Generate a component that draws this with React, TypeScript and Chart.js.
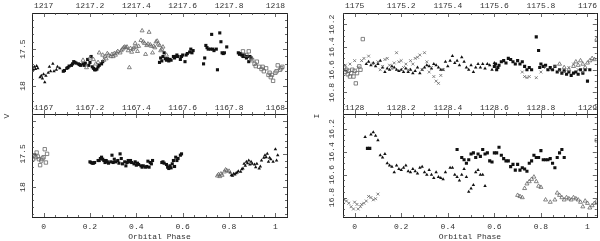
import React, { useEffect, useRef } from 'react';
import { Chart, registerables } from 'chart.js';
Chart.register(...registerables);

type Pt = [number, number];

// ---------- Tick labels / axis bases ----------
const phaseTicksLabel = 'Orbital Phase';
const hjdBaseTL = 1217;
const hjdBaseBL = 1167;
const hjdBaseTR = 1175;
const hjdBaseBR = 1128;
const yTitleLeft = 'V';
const yTitleRight = 'I';

// ---------- Top-left panel (V, HJD 1217) ----------
const tlFilledTri: Pt[] = [
  [-0.045, 17.78], [-0.04, 17.74], [-0.035, 17.77], [-0.03, 17.73], [-0.025, 17.76], [-0.015, 17.88],
  [-0.01, 17.86], [-0.005, 17.9], [0.0, 17.84], [0.005, 17.95], [0.01, 17.86], [0.02, 17.82],
  [0.025, 17.74], [0.03, 17.8], [0.04, 17.7], [0.045, 17.8], [0.055, 17.78], [0.06, 17.74], [0.07, 17.76],
];
const tlFilledSq: Pt[] = [
  [0.085, 17.8], [0.09, 17.79], [0.1, 17.76], [0.105, 17.75], [0.11, 17.73], [0.12, 17.72], [0.125, 17.7],
  [0.13, 17.67], [0.135, 17.68], [0.14, 17.69], [0.15, 17.7], [0.155, 17.71], [0.16, 17.72], [0.17, 17.7],
  [0.175, 17.72], [0.18, 17.69], [0.19, 17.64], [0.195, 17.72], [0.2, 17.68], [0.205, 17.6], [0.21, 17.74],
  [0.215, 17.76], [0.22, 17.78], [0.225, 17.78], [0.23, 17.77], [0.235, 17.74], [0.24, 17.72], [0.25, 17.7],
  [0.255, 17.67],
  [0.5, 17.68], [0.505, 17.62], [0.51, 17.66], [0.515, 17.6], [0.52, 17.55], [0.525, 17.63], [0.53, 17.65],
  [0.535, 17.63], [0.54, 17.66], [0.545, 17.64], [0.55, 17.65], [0.56, 17.6], [0.565, 17.62], [0.57, 17.6],
  [0.575, 17.58], [0.58, 17.6], [0.59, 17.64], [0.595, 17.6], [0.6, 17.58], [0.61, 17.67], [0.615, 17.58],
  [0.62, 17.56], [0.63, 17.54], [0.635, 17.5], [0.64, 17.55], [0.645, 17.52],
  [0.69, 17.7], [0.695, 17.62], [0.7, 17.45], [0.705, 17.48], [0.71, 17.5], [0.72, 17.5], [0.725, 17.3],
  [0.73, 17.5], [0.735, 17.52], [0.745, 17.5], [0.75, 17.78], [0.76, 17.28], [0.765, 17.4], [0.77, 17.55],
  [0.775, 17.56], [0.78, 17.55], [0.79, 17.47],
  [0.84, 17.55], [0.845, 17.57], [0.85, 17.56], [0.855, 17.58], [0.86, 17.6], [0.865, 17.58], [0.87, 17.6],
  [0.875, 17.62], [0.88, 17.6], [0.885, 17.67], [0.89, 17.6], [0.895, 17.62],
];
const tlOpenTri: Pt[] = [
  [0.17, 17.65], [0.185, 17.75], [0.2, 17.62], [0.215, 17.64], [0.225, 17.7], [0.235, 17.68], [0.24, 17.55],
  [0.255, 17.58], [0.26, 17.65], [0.265, 17.6], [0.27, 17.63], [0.275, 17.56], [0.28, 17.58], [0.29, 17.6],
  [0.295, 17.57], [0.3, 17.6], [0.305, 17.56], [0.31, 17.58], [0.315, 17.55], [0.32, 17.53], [0.33, 17.55],
  [0.335, 17.52], [0.34, 17.5], [0.345, 17.48], [0.35, 17.47], [0.355, 17.48], [0.36, 17.47], [0.365, 17.52],
  [0.37, 17.75], [0.375, 17.49], [0.38, 17.54], [0.385, 17.5], [0.39, 17.48], [0.395, 17.42], [0.4, 17.47],
  [0.405, 17.53], [0.41, 17.46], [0.42, 17.38], [0.425, 17.25], [0.43, 17.4], [0.435, 17.42], [0.44, 17.57],
  [0.445, 17.45], [0.45, 17.43], [0.455, 17.27], [0.46, 17.44], [0.465, 17.46], [0.47, 17.55], [0.475, 17.46],
  [0.48, 17.48], [0.485, 17.4], [0.49, 17.39], [0.495, 17.43], [0.5, 17.45], [0.505, 17.52], [0.51, 17.5],
  [0.515, 17.47], [0.53, 17.58],
];
const tlOpenSq: Pt[] = [
  [0.86, 17.53], [0.875, 17.58], [0.885, 17.53], [0.895, 17.63], [0.9, 17.65], [0.91, 17.7], [0.915, 17.73],
  [0.92, 17.67], [0.93, 17.74], [0.94, 17.77], [0.945, 17.74], [0.95, 17.8], [0.96, 17.76], [0.97, 17.85],
  [0.975, 17.82], [0.98, 17.88], [0.985, 17.85], [0.99, 17.93], [1.0, 17.82], [1.005, 17.8], [1.01, 17.72],
  [1.02, 17.78], [1.025, 17.76], [1.03, 17.74],
];

// ---------- Bottom-left panel (V, HJD 1167) ----------
const blOpenSq: Pt[] = [
  [-0.045, 17.58], [-0.04, 17.52], [-0.035, 17.55], [-0.03, 17.48], [-0.025, 17.54], [-0.02, 17.58],
  [-0.015, 17.67], [-0.01, 17.6], [-0.005, 17.57], [0.0, 17.55], [0.005, 17.43], [0.01, 17.63], [0.015, 17.5],
];
const blFilledSq: Pt[] = [
  [0.2, 17.62], [0.205, 17.63], [0.21, 17.64], [0.215, 17.64], [0.22, 17.63], [0.235, 17.6], [0.24, 17.6],
  [0.245, 17.57], [0.25, 17.55], [0.255, 17.58], [0.26, 17.6], [0.265, 17.63], [0.27, 17.6], [0.275, 17.62],
  [0.28, 17.64], [0.29, 17.62], [0.295, 17.52], [0.3, 17.63], [0.305, 17.58], [0.31, 17.62], [0.32, 17.6],
  [0.325, 17.64], [0.33, 17.5], [0.335, 17.57], [0.34, 17.65], [0.35, 17.62], [0.355, 17.68], [0.36, 17.63],
  [0.365, 17.6], [0.37, 17.62], [0.375, 17.6], [0.38, 17.63], [0.39, 17.65], [0.395, 17.62], [0.4, 17.67],
  [0.405, 17.64], [0.41, 17.66], [0.42, 17.68], [0.425, 17.7], [0.43, 17.68], [0.44, 17.7], [0.445, 17.69],
  [0.45, 17.61], [0.455, 17.7], [0.46, 17.63], [0.465, 17.65], [0.47, 17.6], [0.51, 17.63], [0.515, 17.62],
  [0.52, 17.64], [0.53, 17.66], [0.535, 17.7], [0.54, 17.72], [0.545, 17.68], [0.55, 17.71], [0.555, 17.65],
  [0.56, 17.6], [0.565, 17.69], [0.57, 17.55], [0.575, 17.6], [0.58, 17.57], [0.59, 17.52], [0.595, 17.5],
];
const blOpenTri: Pt[] = [
  [0.75, 17.83], [0.755, 17.81], [0.76, 17.84], [0.765, 17.8], [0.77, 17.82], [0.78, 17.77], [0.785, 17.74],
  [0.79, 17.75], [0.8, 17.76],
];
const blFilledTri: Pt[] = [
  [0.805, 17.78], [0.81, 17.82], [0.815, 17.83], [0.82, 17.8], [0.825, 17.81], [0.83, 17.79], [0.835, 17.78],
  [0.84, 17.76], [0.85, 17.77], [0.855, 17.73], [0.86, 17.72], [0.865, 17.65], [0.87, 17.68], [0.875, 17.62],
  [0.88, 17.64], [0.885, 17.6], [0.89, 17.66], [0.895, 17.62], [0.9, 17.65], [0.91, 17.66], [0.915, 17.7],
  [0.92, 17.65], [0.93, 17.72], [0.935, 17.69], [0.94, 17.6], [0.95, 17.56], [0.955, 17.52], [0.96, 17.55],
  [0.965, 17.5], [0.97, 17.62], [0.975, 17.56], [0.98, 17.58], [0.99, 17.62], [1.0, 17.43], [1.005, 17.6],
  [1.01, 17.52],
];

// ---------- Top-right panel (I, HJD 1175) ----------
const trOpenSq: Pt[] = [
  [-0.045, 16.58], [-0.04, 16.62], [-0.035, 16.6], [-0.03, 16.64], [-0.025, 16.61], [-0.02, 16.66],
  [-0.015, 16.63], [-0.01, 16.6], [-0.005, 16.66], [0.0, 16.61], [0.005, 16.72], [0.01, 16.63], [0.02, 16.57],
  [0.025, 16.6], [0.035, 16.33],
];
const trCross: Pt[] = [
  [-0.04, 16.56], [-0.02, 16.55], [0.0, 16.52], [0.015, 16.58], [0.03, 16.52], [0.04, 16.5], [0.06, 16.48],
  [0.08, 16.55], [0.1, 16.53], [0.11, 16.6], [0.12, 16.57], [0.13, 16.51], [0.14, 16.5], [0.15, 16.56],
  [0.16, 16.59], [0.17, 16.54], [0.18, 16.45], [0.19, 16.53], [0.2, 16.52], [0.21, 16.58], [0.22, 16.55],
  [0.23, 16.6], [0.24, 16.52], [0.25, 16.55], [0.26, 16.5], [0.27, 16.49], [0.28, 16.47], [0.29, 16.6],
  [0.3, 16.45], [0.31, 16.53], [0.32, 16.62], [0.33, 16.58], [0.34, 16.66], [0.35, 16.7], [0.36, 16.72],
  [0.37, 16.65], [0.38, 16.6], [0.72, 16.62], [0.73, 16.66], [0.74, 16.67], [0.75, 16.66], [0.78, 16.67],
  [0.8, 16.62], [0.82, 16.58], [0.84, 16.6], [0.86, 16.57], [0.88, 16.61], [0.9, 16.62], [0.92, 16.58],
  [0.94, 16.55], [0.96, 16.6], [0.98, 16.62],
];
const trFilledTri: Pt[] = [
  [0.05, 16.55], [0.06, 16.53], [0.07, 16.56], [0.08, 16.54], [0.09, 16.57], [0.1, 16.55], [0.11, 16.52],
  [0.12, 16.58], [0.13, 16.62], [0.14, 16.59], [0.15, 16.6], [0.16, 16.57], [0.17, 16.58], [0.18, 16.6],
  [0.19, 16.61], [0.2, 16.6], [0.21, 16.62], [0.22, 16.59], [0.23, 16.62], [0.24, 16.6], [0.25, 16.63],
  [0.26, 16.61], [0.27, 16.58], [0.28, 16.63], [0.29, 16.6], [0.3, 16.58], [0.31, 16.56], [0.32, 16.57],
  [0.33, 16.59], [0.34, 16.55], [0.35, 16.56], [0.36, 16.58], [0.37, 16.6], [0.38, 16.6], [0.39, 16.53],
  [0.4, 16.57], [0.41, 16.52], [0.42, 16.48], [0.43, 16.54], [0.44, 16.52], [0.45, 16.56], [0.46, 16.49],
  [0.47, 16.53], [0.48, 16.58], [0.49, 16.6], [0.5, 16.56], [0.51, 16.62], [0.52, 16.58], [0.53, 16.55],
  [0.54, 16.58], [0.55, 16.55], [0.56, 16.59], [0.57, 16.55], [0.58, 16.56], [0.59, 16.6], [0.6, 16.54],
];
const trFilledSq: Pt[] = [
  [0.6, 16.57], [0.605, 16.55], [0.61, 16.6], [0.615, 16.58], [0.62, 16.56], [0.63, 16.53], [0.64, 16.52],
  [0.65, 16.54], [0.66, 16.5], [0.67, 16.51], [0.68, 16.53], [0.69, 16.55], [0.7, 16.52], [0.71, 16.55],
  [0.72, 16.53], [0.73, 16.57], [0.74, 16.6], [0.75, 16.58], [0.76, 16.6], [0.78, 16.31], [0.79, 16.43],
  [0.795, 16.58], [0.8, 16.55], [0.81, 16.57], [0.82, 16.56], [0.83, 16.6], [0.84, 16.58], [0.85, 16.6],
  [0.86, 16.57], [0.87, 16.62], [0.88, 16.6], [0.89, 16.63], [0.9, 16.61], [0.91, 16.64], [0.92, 16.62],
  [0.93, 16.65], [0.94, 16.63], [0.95, 16.62], [0.96, 16.64], [0.97, 16.6], [0.98, 16.63], [0.99, 16.6],
  [1.0, 16.7], [1.01, 16.6],
];
const trOpenTri: Pt[] = [
  [0.88, 16.55], [0.9, 16.58], [0.92, 16.6], [0.94, 16.57], [0.95, 16.53], [0.96, 16.56], [0.97, 16.52],
  [0.98, 16.55], [0.99, 16.58], [1.0, 16.54], [1.01, 16.52], [1.02, 16.5], [1.03, 16.51], [1.04, 16.33],
];

// ---------- Bottom-right panel (I, HJD 1128) ----------
const brCross: Pt[] = [
  [-0.045, 16.82], [-0.035, 16.83], [-0.025, 16.85], [-0.015, 16.88], [-0.005, 16.9], [0.0, 16.84],
  [0.01, 16.86], [0.015, 16.9], [0.025, 16.88], [0.03, 16.86], [0.04, 16.85], [0.05, 16.83], [0.06, 16.79],
  [0.07, 16.8], [0.08, 16.82], [0.09, 16.81], [0.1, 16.77],
];
const brFilledTri: Pt[] = [
  [0.045, 16.27], [0.07, 16.25], [0.08, 16.23], [0.09, 16.26], [0.1, 16.3], [0.11, 16.43], [0.12, 16.45],
  [0.13, 16.42], [0.14, 16.5], [0.15, 16.52], [0.16, 16.53], [0.17, 16.58], [0.18, 16.52], [0.19, 16.55],
  [0.2, 16.56], [0.21, 16.54], [0.22, 16.52], [0.23, 16.57], [0.24, 16.58], [0.25, 16.55], [0.26, 16.57],
  [0.27, 16.59], [0.28, 16.54], [0.29, 16.53], [0.3, 16.58], [0.31, 16.6], [0.32, 16.56], [0.33, 16.6],
  [0.34, 16.63], [0.35, 16.58], [0.36, 16.62], [0.37, 16.63], [0.38, 16.64], [0.39, 16.58], [0.41, 16.54],
  [0.42, 16.54], [0.43, 16.6], [0.44, 16.62], [0.45, 16.65], [0.46, 16.6], [0.47, 16.55], [0.48, 16.62],
  [0.49, 16.75], [0.5, 16.72], [0.51, 16.69], [0.52, 16.58], [0.53, 16.56], [0.54, 16.6], [0.55, 16.6],
  [0.56, 16.7],
];
const brFilledSq: Pt[] = [
  [0.055, 16.37], [0.065, 16.37],
  [0.44, 16.38], [0.46, 16.45], [0.47, 16.47], [0.48, 16.5], [0.49, 16.47], [0.5, 16.42], [0.51, 16.41],
  [0.52, 16.45], [0.53, 16.42], [0.54, 16.44], [0.55, 16.38], [0.56, 16.42], [0.57, 16.41], [0.58, 16.48],
  [0.59, 16.49], [0.6, 16.41], [0.61, 16.41], [0.62, 16.36], [0.63, 16.43], [0.64, 16.46], [0.65, 16.48],
  [0.66, 16.48], [0.67, 16.53], [0.68, 16.51], [0.69, 16.56], [0.7, 16.51], [0.71, 16.56], [0.72, 16.54],
  [0.73, 16.55], [0.74, 16.57], [0.75, 16.5], [0.76, 16.48], [0.77, 16.43], [0.78, 16.45], [0.79, 16.45],
  [0.8, 16.39], [0.81, 16.47], [0.82, 16.47], [0.83, 16.47], [0.84, 16.46], [0.85, 16.5], [0.86, 16.54],
  [0.87, 16.45], [0.88, 16.41], [0.89, 16.38], [0.9, 16.45],
];
const brOpenTri: Pt[] = [
  [0.7, 16.78], [0.71, 16.79], [0.72, 16.8], [0.73, 16.72], [0.74, 16.68], [0.75, 16.66], [0.76, 16.64],
  [0.77, 16.62], [0.78, 16.66], [0.79, 16.7], [0.8, 16.71], [0.82, 16.82], [0.84, 16.84], [0.86, 16.82],
  [0.87, 16.76], [0.88, 16.78], [0.89, 16.8], [0.9, 16.82], [0.91, 16.8], [0.92, 16.81], [0.93, 16.82],
  [0.94, 16.8], [0.95, 16.81], [0.96, 16.82], [0.97, 16.84], [0.98, 16.88], [0.99, 16.83], [1.0, 16.85],
  [1.01, 16.89], [1.02, 16.87], [1.03, 16.85], [1.04, 16.83],
];
const brOpenSq: Pt[] = [[1.04, 16.3]];

// ---------- styles ----------
const FONT = "'Liberation Mono', 'DejaVu Sans Mono', monospace";
const TXT = '#333';
const MARK: Record<string, any> = {
  fSq: { pointStyle: 'rect', pointRadius: 2.2, backgroundColor: '#111', borderColor: '#111', borderWidth: 0 },
  oSq: { pointStyle: 'rect', pointRadius: 2.4, backgroundColor: 'rgba(0,0,0,0)', borderColor: '#666', borderWidth: 0.8 },
  fTri: { pointStyle: 'triangle', pointRadius: 2, backgroundColor: '#111', borderColor: '#111', borderWidth: 0 },
  oTri: { pointStyle: 'triangle', pointRadius: 2.3, backgroundColor: 'rgba(0,0,0,0)', borderColor: '#666', borderWidth: 0.8 },
  cross: { pointStyle: 'crossRot', pointRadius: 2, backgroundColor: '#666', borderColor: '#666', borderWidth: 0.8 },
};

const fmt = (v: number) => String(+v.toFixed(1));

interface Panel {
  left: number; top: number; width: number; height: number;
  xMin: number; xMax: number; yMin: number; yMax: number;
  yStep: number; yMinor: number; yLabelMin: number;
  hjdBase: number; bottomPanel: boolean;
  topH: number; topPad: number; yPad: number; padRight: number; padBottom: number;
  series: { pts: Pt[]; mark: string }[];
  title?: { text: string; x: number; y: number };
}

const panels: Panel[] = [
  {
    left: 0, top: 0, width: 300, height: 122, xMin: -0.05, xMax: 1.05, yMin: 17.01, yMax: 18.38,
    yStep: 0.5, yMinor: 0.1, yLabelMin: 17.4, hjdBase: hjdBaseTL, bottomPanel: false,
    topH: 13, topPad: 2.5, yPad: 0, padRight: 13, padBottom: 8,
    series: [
      { pts: tlOpenTri, mark: 'oTri' }, { pts: tlOpenSq, mark: 'oSq' },
      { pts: tlFilledTri, mark: 'fTri' }, { pts: tlFilledSq, mark: 'fSq' },
    ],
  },
  {
    left: 0, top: 98, width: 300, height: 143, xMin: -0.05, xMax: 1.05, yMin: 16.9, yMax: 18.45,
    yStep: 0.5, yMinor: 0.1, yLabelMin: 17.4, hjdBase: hjdBaseBL, bottomPanel: true,
    topH: 16, topPad: 1.2, yPad: 0, padRight: 13, padBottom: 0,
    series: [
      { pts: blOpenSq, mark: 'oSq' }, { pts: blOpenTri, mark: 'oTri' },
      { pts: blFilledSq, mark: 'fSq' }, { pts: blFilledTri, mark: 'fTri' },
    ],
    title: { text: yTitleLeft, x: 7, y: 18 },
  },
  {
    left: 300, top: 0, width: 300, height: 122, xMin: -0.05, xMax: 1.04, yMin: 16.1, yMax: 16.99,
    yStep: 0.2, yMinor: 0.05, yLabelMin: 16.15, hjdBase: hjdBaseTR, bottomPanel: false,
    topH: 13, topPad: 2.5, yPad: 2, padRight: 3, padBottom: 8,
    series: [
      { pts: trCross, mark: 'cross' }, { pts: trOpenSq, mark: 'oSq' }, { pts: trOpenTri, mark: 'oTri' },
      { pts: trFilledTri, mark: 'fTri' }, { pts: trFilledSq, mark: 'fSq' },
    ],
  },
  {
    left: 300, top: 98, width: 300, height: 143, xMin: -0.05, xMax: 1.04, yMin: 16.07, yMax: 16.97,
    yStep: 0.2, yMinor: 0.05, yLabelMin: 16.15, hjdBase: hjdBaseBR, bottomPanel: true,
    topH: 16, topPad: 1.2, yPad: 2, padRight: 3, padBottom: 0,
    series: [
      { pts: brCross, mark: 'cross' }, { pts: brOpenTri, mark: 'oTri' }, { pts: brOpenSq, mark: 'oSq' },
      { pts: brFilledTri, mark: 'fTri' }, { pts: brFilledSq, mark: 'fSq' },
    ],
    title: { text: yTitleRight, x: 17, y: 18 },
  },
];

function framePlugin(p: Panel) {
  return {
    id: 'frameTicks',
    afterDraw(chart: any) {
      const { ctx, chartArea: a } = chart;
      const xs = chart.scales.x;
      const ys = chart.scales.y;
      ctx.save();
      ctx.strokeStyle = '#222';
      ctx.lineWidth = 1;
      ctx.strokeRect(Math.round(a.left) + 0.5, Math.round(a.top) + 0.5,
        Math.round(a.right) - Math.round(a.left), Math.round(a.bottom) - Math.round(a.top));
      ctx.strokeStyle = '#444';
      ctx.lineWidth = 0.8;
      const xMinor = 0.05, xMajor = 0.2;
      for (let k = Math.ceil(p.xMin / xMinor - 1e-6); k * xMinor <= p.xMax + 1e-9; k++) {
        const v = k * xMinor;
        const major = Math.abs(v / xMajor - Math.round(v / xMajor)) < 1e-6;
        const len = major ? 4 : 2;
        const px = Math.round(xs.getPixelForValue(v)) + 0.5;
        ctx.beginPath();
        ctx.moveTo(px, a.bottom); ctx.lineTo(px, a.bottom - len);
        ctx.moveTo(px, a.top); ctx.lineTo(px, a.top + len);
        ctx.stroke();
      }
      for (let k = Math.ceil(p.yMin / p.yMinor - 1e-6); k * p.yMinor <= p.yMax + 1e-9; k++) {
        const v = k * p.yMinor;
        const major = Math.abs(v / p.yStep - Math.round(v / p.yStep)) < 1e-6;
        const len = major ? 4 : 2;
        const py = Math.round(ys.getPixelForValue(v)) + 0.5;
        ctx.beginPath();
        ctx.moveTo(a.left, py); ctx.lineTo(a.left + len, py);
        ctx.moveTo(a.right, py); ctx.lineTo(a.right - len, py);
        ctx.stroke();
      }
      if (p.title) {
        ctx.fillStyle = TXT;
        ctx.font = `8px ${FONT}`;
        ctx.textAlign = 'center';
        ctx.textBaseline = 'middle';
        ctx.translate(p.title.x, p.title.y);
        ctx.rotate(-Math.PI / 2);
        ctx.fillText(p.title.text, 0, 0);
      }
      ctx.restore();
    },
  };
}

function buildConfig(p: Panel): any {
  const font = { family: FONT, size: 8 };
  const hjdAxis = {
    type: 'linear', position: 'top', min: p.xMin, max: p.xMax,
    grid: { display: false, drawTicks: false }, border: { display: false },
    ticks: {
      stepSize: 0.2, includeBounds: false, padding: p.topPad, font, color: TXT,
      maxRotation: 0, autoSkip: false,
      callback: (v: number) => fmt(p.hjdBase + v),
    },
    afterFit: (s: any) => { s.height = p.topH; },
  };
  const yAxis = {
    type: 'linear', position: 'left', reverse: true, min: p.yMin, max: p.yMax,
    grid: { display: false, drawTicks: false }, border: { display: false },
    ticks: {
      stepSize: p.yStep, includeBounds: false, minRotation: 90, maxRotation: 90,
      crossAlign: 'center', padding: p.yPad, font, color: TXT, autoSkip: false,
      callback: (v: number) => (v >= p.yLabelMin ? fmt(v) : ''),
    },
    afterFit: (s: any) => { s.width = p.left === 0 ? 32 : 43; },
  };
  const scales: any = { y: yAxis };
  if (p.bottomPanel) {
    scales.x = {
      type: 'linear', position: 'bottom', min: p.xMin, max: p.xMax,
      grid: { display: false, drawTicks: false }, border: { display: false },
      ticks: {
        stepSize: 0.2, includeBounds: false, padding: 5, font, color: TXT, maxRotation: 0, autoSkip: false,
        callback: (v: number) => fmt(v),
      },
      title: {
        display: true, text: phaseTicksLabel, color: TXT,
        font: { family: FONT, size: 8, lineHeight: 1.1 }, padding: { top: 0, bottom: 0 },
      },
      afterFit: (s: any) => { s.height = 24; },
    };
    scales.xTop = hjdAxis;
  } else {
    scales.x = hjdAxis;
  }
  return {
    type: 'scatter',
    data: {
      datasets: p.series.map((s) => ({
        data: s.pts.map(([x, y]) => ({ x, y })),
        ...MARK[s.mark],
        pointHoverRadius: MARK[s.mark].pointRadius,
        xAxisID: 'x',
        yAxisID: 'y',
      })),
    },
    options: {
      animation: false,
      responsive: false,
      devicePixelRatio: 1,
      events: [],
      layout: { padding: { left: 0, top: 0, right: p.padRight, bottom: p.padBottom } },
      plugins: { legend: { display: false }, tooltip: { enabled: false } },
      scales,
    },
    plugins: [framePlugin(p)],
  };
}

function PanelChart({ p }: { p: Panel }) {
  const ref = useRef<HTMLCanvasElement | null>(null);
  useEffect(() => {
    if (!ref.current) return;
    const chart = new Chart(ref.current, buildConfig(p));
    return () => chart.destroy();
  }, [p]);
  return (
    <canvas
      ref={ref}
      width={p.width}
      height={p.height}
      style={{ position: 'absolute', left: p.left, top: p.top, width: p.width, height: p.height, display: 'block' }}
    />
  );
}

export default function App() {
  return (
    <div style={{ position: 'absolute', left: 0, top: 0, width: 600, height: 241, background: '#fff', overflow: 'hidden' }}>
      {panels.map((p, i) => (
        <PanelChart key={i} p={p} />
      ))}
    </div>
  );
}
